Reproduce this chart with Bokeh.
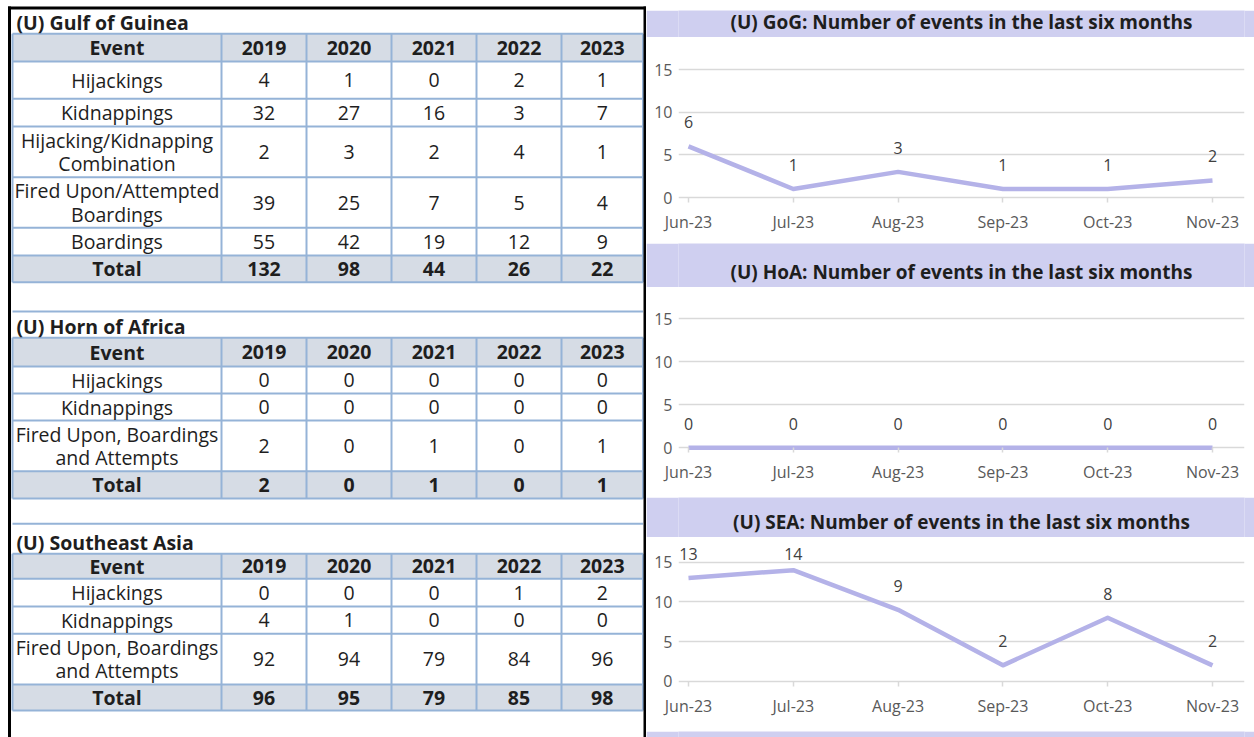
from bokeh.plotting import figure
from bokeh.models import Range1d, FixedTicker, LabelSet, ColumnDataSource
from bokeh.layouts import row, column
from bokeh.embed import file_html
from bokeh.resources import INLINE
from bokeh.core.properties import value

# ---------------- data ----------------
years = ["2019", "2020", "2021", "2022", "2023"]

gog_title = "(U) Gulf of Guinea"
gog_events = ["Hijackings", "Kidnappings", "Hijacking/Kidnapping\nCombination",
              "Fired Upon/Attempted\nBoardings", "Boardings"]
gog_hijackings = [4, 1, 0, 2, 1]
gog_kidnappings = [32, 27, 16, 3, 7]
gog_combination = [2, 3, 2, 4, 1]
gog_fired_upon = [39, 25, 7, 5, 4]
gog_boardings = [55, 42, 19, 12, 9]
gog_total = [132, 98, 44, 26, 22]

hoa_title = "(U) Horn of Africa"
hoa_events = ["Hijackings", "Kidnappings", "Fired Upon, Boardings\nand Attempts"]
hoa_hijackings = [0, 0, 0, 0, 0]
hoa_kidnappings = [0, 0, 0, 0, 0]
hoa_fired_upon = [2, 0, 1, 0, 1]
hoa_total = [2, 0, 1, 0, 1]

sea_title = "(U) Southeast Asia"
sea_events = ["Hijackings", "Kidnappings", "Fired Upon, Boardings\nand Attempts"]
sea_hijackings = [0, 0, 0, 1, 2]
sea_kidnappings = [4, 1, 0, 0, 0]
sea_fired_upon = [92, 94, 79, 84, 96]
sea_total = [96, 95, 79, 85, 98]

months = ["Jun-23", "Jul-23", "Aug-23", "Sep-23", "Oct-23", "Nov-23"]
gog_monthly = [6, 1, 3, 1, 1, 2]
hoa_monthly = [0, 0, 0, 0, 0, 0]
sea_monthly = [13, 14, 9, 2, 8, 2]

gog_chart_title = "(U) GoG: Number of events in the last six months"
hoa_chart_title = "(U) HoA: Number of events in the last six months"
sea_chart_title = "(U) SEA: Number of events in the last six months"

# ---------------- style ----------------
FONT = "Open Sans"
TFS = "19.5px"
CFS = "16px"
LAV = "#CFCFF0"
LINE = "#B4B2E8"
HEAD_FILL = "#D6DCE5"
GRID_BLUE = "#95B3D7"
TXT = "#1E1E1E"
GREY_TXT = "#595959"
LBL_TXT = "#404040"
GRID_GREY = "#D9D9D9"

# ---------------- left panel (tables) ----------------
left = figure(width=646, height=737, x_range=Range1d(0, 646), y_range=Range1d(737, 0),
              x_axis_type=None, y_axis_type=None, min_border=0,
              toolbar_location=None, output_backend="svg",
              background_fill_color="white", border_fill_color="white")
left.grid.visible = False
left.outline_line_color = None

COLS = [12, 221, 306, 391, 476, 561, 642.5]


def draw_table(p, title, edges, events, rows, total, sep_top=None):
    x_l, x_r = COLS[0], COLS[-1]
    p.quad(left=[x_l, x_l], right=[x_r, x_r], top=[edges[0], edges[-2]],
           bottom=[edges[1], edges[-1]], fill_color=HEAD_FILL, line_color=None)
    hy = list(edges)
    if sep_top is not None:
        hy.append(sep_top)
    p.segment(x0=[x_l] * len(hy), x1=[x_r] * len(hy), y0=hy, y1=hy,
              line_color=GRID_BLUE, line_width=2)
    p.segment(x0=COLS, x1=COLS, y0=[edges[0]] * len(COLS), y1=[edges[-1]] * len(COLS),
              line_color=GRID_BLUE, line_width=2)
    p.text(x=[16], y=[edges[0] - 11], text=[title], text_font=value(FONT),
           text_font_size=TFS, text_font_style="bold", text_color=TXT,
           text_baseline="middle", text_align="left")
    centers_x = [(COLS[i] + COLS[i + 1]) / 2 for i in range(len(COLS) - 1)]
    cy = [(edges[i] + edges[i + 1]) / 2 for i in range(len(edges) - 1)]
    p.text(x=centers_x, y=[cy[0]] * 6, text=["Event"] + years, text_font=value(FONT),
           text_font_size=TFS, text_font_style="bold", text_color=TXT,
           text_baseline="middle", text_align="center")
    for r, (ev, vals) in enumerate(zip(events, rows)):
        y = cy[r + 1]
        p.text(x=[centers_x[0]], y=[y], text=[ev], text_font=value(FONT),
               text_font_size=TFS, text_color=TXT, text_line_height=0.87,
               text_baseline="middle", text_align="center")
        p.text(x=centers_x[1:], y=[y] * 5, text=[str(v) for v in vals],
               text_font=value(FONT), text_font_size=TFS, text_color=TXT,
               text_baseline="middle", text_align="center")
    p.text(x=centers_x, y=[cy[-1]] * 6, text=["Total"] + [str(v) for v in total],
           text_font=value(FONT), text_font_size=TFS, text_font_style="bold",
           text_color=TXT, text_baseline="middle", text_align="center")


draw_table(left, gog_title, [33.3, 61, 98.3, 126, 176.7, 227.3, 255, 281.7], gog_events,
           [gog_hijackings, gog_kidnappings, gog_combination, gog_fired_upon, gog_boardings],
           gog_total)
draw_table(left, hoa_title, [337.3, 366, 393, 420, 470.7, 498], hoa_events,
           [hoa_hijackings, hoa_kidnappings, hoa_fired_upon], hoa_total, sep_top=311)
draw_table(left, sea_title, [553.3, 578.3, 606, 633.3, 684, 710], sea_events,
           [sea_hijackings, sea_kidnappings, sea_fired_upon], sea_total, sep_top=523.3)

# black frame lines
left.segment(x0=[9, 644.5, 7.5], x1=[9, 644.5, 646], y0=[6, 6, 7.5], y1=[737, 737, 7.5],
             line_color="black", line_width=3)


# ---------------- right panel (charts) ----------------
def band(h, title=None, color=LAV):
    p = figure(width=608, height=h, x_range=Range1d(0, 1), y_range=Range1d(0, h),
               x_axis_type=None, y_axis_type=None, min_border=0,
               toolbar_location=None, output_backend="svg",
               background_fill_color=color, border_fill_color=color)
    p.grid.visible = False
    p.outline_line_color = None
    if title:
        p.text(x=[0.5], y=[16], text=[title], text_font=value(FONT),
               text_font_size="19px", text_font_style="bold", text_color=TXT,
               text_align="center", text_baseline="middle")
    return p


X0_PX, X5_PX = 688, 1212
FRAME_L, FRAME_R = 678, 1244
PANEL_L, PANEL_R = 646, 1254


def chart(vals, fig_top, fig_h, y0_px, y15_px, frame_top, frame_bottom):
    ppu_y = (y0_px - y15_px) / 15.0
    ppu_x = (X5_PX - X0_PX) / 5.0
    y_start = -(frame_bottom - y0_px) / ppu_y
    y_end = 15 + (y15_px - frame_top) / ppu_y
    x_start = -(X0_PX - FRAME_L) / ppu_x
    x_end = 5 + (FRAME_R - X5_PX) / ppu_x
    p = figure(width=608, height=fig_h, x_range=Range1d(x_start, x_end),
               y_range=Range1d(y_start, y_end),
               min_border_left=FRAME_L - PANEL_L, min_border_right=PANEL_R - FRAME_R,
               min_border_top=frame_top - fig_top,
               min_border_bottom=fig_top + fig_h - frame_bottom,
               toolbar_location=None, output_backend="svg",
               background_fill_color="white", border_fill_color="white")
    p.outline_line_color = None
    p.xgrid.visible = False
    p.ygrid.ticker = FixedTicker(ticks=[0, 5, 10, 15])
    p.ygrid.grid_line_color = GRID_GREY
    p.ygrid.grid_line_width = 1.5
    p.ygrid.bounds = (0, 5)

    yax = p.yaxis[0]
    yax.ticker = FixedTicker(ticks=[0, 5, 10, 15])
    yax.axis_line_color = None
    yax.major_tick_line_color = None
    yax.minor_tick_line_color = None
    yax.major_tick_out = 0
    yax.major_tick_in = 0
    yax.major_label_standoff = FRAME_L - 672
    yax.major_label_text_font = FONT
    yax.major_label_text_font_size = CFS
    yax.major_label_text_color = GREY_TXT

    xax = p.xaxis[0]
    idx = list(range(len(months)))
    xax.ticker = FixedTicker(ticks=idx)
    xax.major_label_overrides = {i: m for i, m in zip(idx, months)}
    xax.bounds = (0, 5)
    xax.axis_line_color = None
    xax.major_tick_line_color = GRID_GREY
    xax.major_tick_line_width = 1.5
    xax.major_tick_out = 0
    xax.major_tick_in = int(round(frame_bottom - y0_px))
    xax.minor_tick_line_color = None
    xax.major_label_standoff = 8
    xax.major_label_text_font = FONT
    xax.major_label_text_font_size = CFS
    xax.major_label_text_color = GREY_TXT

    p.line(x=idx, y=vals, line_color=LINE, line_width=4.5, line_join="round")
    src = ColumnDataSource(dict(x=idx, y=[min(v, 13) for v in vals],
                                lbl=[str(v) for v in vals]))
    p.add_layout(LabelSet(x="x", y="y", text="lbl", source=src, y_offset=24,
                          text_align="center", text_baseline="middle",
                          text_font=value(FONT), text_font_size=CFS,
                          text_color=LBL_TXT))
    return p


top_gap = band(10, color="white")
b1 = band(27, gog_chart_title)
c1 = chart(gog_monthly, 37, 206, 197, 69, 45, 202)
b2 = band(44, hoa_chart_title)
c2 = chart(hoa_monthly, 287, 210, 447.3, 318.3, 295, 452)
b3 = band(40, sea_chart_title)
c3 = chart(sea_monthly, 537, 191, 680.7, 561.7, 540, 686)
b4 = band(9)

layout = row(left, column(top_gap, b1, c1, b2, c2, b3, c3, b4))

open("out.html", "w").write(file_html(layout, INLINE))
